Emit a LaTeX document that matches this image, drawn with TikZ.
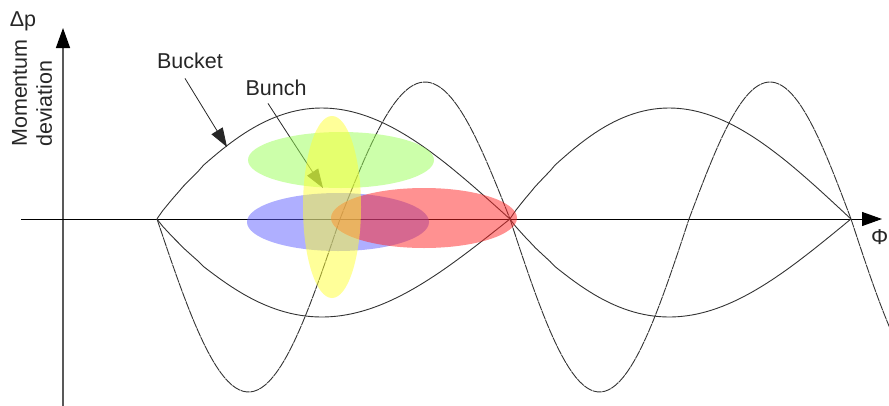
\documentclass[tikz,border=0pt]{standalone}
\usepackage{fontspec}
\setmainfont{Liberation Sans}
\definecolor{bunchgreen}{RGB}{153,255,85}
\definecolor{bunchblue}{RGB}{95,95,255}
\definecolor{bunchred}{RGB}{255,35,35}
\definecolor{bunchyellow}{RGB}{255,255,51}
\usetikzlibrary{arrows.meta}

\begin{document}
\begin{tikzpicture}[x=1pt, y=-1pt,
        label text/.style={font=\fontsize{21.5}{25}\selectfont, text=black!85, inner sep=2pt},
        axis line/.style={-{Triangle[length=20pt, width=14pt, color=black]}},
        pointer/.style={-{Triangle[length=19pt, width=13pt]}, black!85, line width=0.8pt},
        curve line/.style={black!80, line width=0.9pt},
        wave dash/.style={dash pattern=on 9pt off 0.7pt},
        bunch/.style={fill opacity=0.5}]
        \useasboundingbox (0,0) rectangle (889,405);

        % Axes
        \coordinate (p bottom) at (63,410);
        \coordinate (p top) at (63,28);
        \coordinate (phi left) at (21,219);
        \coordinate (phi right) at (882,219);
        \draw[axis line, black!65, line width=1.4pt] (p bottom) -- (p top);
        \draw[axis line, black, line width=1pt] (phi left) -- (phi right);

        % Axis labels
        \node[label text, anchor=base] (dp) at (23,26) {Δp};
        \node[label text, rotate=90, align=left] (momentum) at (32,93) {Momentum\\deviation};
        \node[label text, inner sep=0.5pt, anchor=base east] (phi) at (889,244) {Φ};

        % Separatrix (buckets)
        \foreach \a/\b in {157/510, 510/851} {
            \draw[curve line] (\a,219) -- plot[domain=0.002:1, samples=70, variable=\t]
                ({\a+(\b-\a)*\t}, {219-111*sin(180*\t^0.91)});
            \draw[curve line] (\a,219) -- plot[domain=0.002:1, samples=70, variable=\t]
                ({\a+(\b-\a)*\t}, {219+98*sin(180*\t^0.91)});
        }

        % RF wave
        \foreach \a/\b/\h in {157/340/173, 340/510/-137, 510/689/173, 689/851/-137, 851/1030/173} {
            \draw[curve line, wave dash] plot[domain=\a:\b, samples=50]
                (\x, {219+\h*sin(180/(\b-\a)*(\x-\a))});
        }

        % Labels with arrows
        \node[label text, anchor=base] (bucket) at (190,68) {Bucket};
        \node[label text, anchor=base] (bunch) at (276,95) {Bunch};
        \coordinate (bucket tip) at (227,147);
        \coordinate (bunch tip) at (323,188);
        \draw[pointer] ([shift={(-5pt,-8pt)}]bucket.south) -- (bucket tip);
        \draw[pointer] ([shift={(-8pt,-6pt)}]bunch.south) -- (bunch tip);

        % Bunches
        \fill[bunch, bunchgreen] (341,160) ellipse [x radius=93, y radius=28];
        \fill[bunch, bunchblue] (338,222) ellipse [x radius=91, y radius=29];
        \fill[bunch, bunchred] (424,218) ellipse [x radius=93, y radius=30];
        \fill[bunch, bunchyellow] (332,207) ellipse [x radius=29, y radius=91];
\end{tikzpicture}
\end{document}
